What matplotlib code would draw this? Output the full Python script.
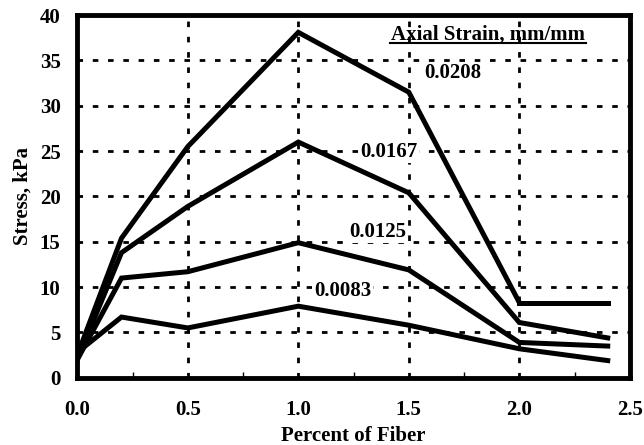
import matplotlib.pyplot as plt
import numpy as np

# percent of fiber vs. stress (kPa) at four axial strains
fiber = [0.0, 0.2, 0.5, 1.0, 1.5, 2.0, 2.4]
s_0208 = [2.5, 15.4, 25.5, 38.1, 31.5, 8.3, 8.3]
s_0167 = [2.0, 13.8, 18.9, 26.0, 20.4, 6.1, 4.4]
s_0125 = [2.0, 11.0, 11.7, 14.9, 11.9, 3.9, 3.5]
s_0083 = [2.8, 6.7, 5.5, 7.9, 5.8, 3.2, 1.9]
labels = ["0.0208", "0.0167", "0.0125", "0.0083"]
label_pos = [(1.70, 33.6), (1.41, 24.9), (1.36, 16.1), (1.20, 9.6)]

plt.rcParams['font.family'] = ['Liberation Serif', 'DejaVu Serif']
plt.rcParams['font.weight'] = 'bold'
fs = 15

fig = plt.figure(figsize=(6.44, 4.45), dpi=100)
ax = fig.add_axes([0.12, 0.151, 0.858, 0.815])

# 0.0208 has a break at 2.0: drop to 8.3 then flat
ax.plot(fiber[:6], s_0208[:6], color='black', lw=3.6, solid_joinstyle='miter', zorder=3)
ax.plot(fiber[5:], s_0208[5:], color='black', lw=3.6, zorder=3)
for ys in (s_0167, s_0125, s_0083):
    ax.plot(fiber, ys, color='black', lw=3.6, solid_joinstyle='miter', zorder=3)

for txt, (x, y) in zip(labels, label_pos):
    ax.text(x, y, txt, ha='center', va='center', fontsize=fs, fontweight='bold',
            bbox=dict(facecolor='white', edgecolor='none', pad=1), zorder=2)

ax.text(1.86, 37.9, "Axial Strain, mm/mm", ha='center', va='center',
        fontsize=fs, fontweight='bold', zorder=2)
ax.plot([1.415, 2.30], [36.95, 36.95], color='black', lw=1.5, zorder=2)

ax.set_xlim(0, 2.5)
ax.set_ylim(0, 40)
ax.set_xticks(np.arange(0, 2.51, 0.5))
ax.set_xticks(np.arange(0.25, 2.5, 0.5), minor=True)
ax.set_yticks(np.arange(0, 41, 5))
ax.set_xticklabels([f"{v:.1f}" for v in np.arange(0, 2.51, 0.5)])
ax.grid(True, which='major', color='black', lw=2, linestyle=(0, (2, 3.5)), zorder=1)
ax.tick_params(which='major', length=0, labelsize=fs, pad=12)
ax.tick_params(axis='x', which='major', pad=16)
ax.tick_params(which='minor', direction='in', length=4, width=1)
for sp in ax.spines.values():
    sp.set_linewidth(3.5)

ax.set_xlabel("Percent of Fiber", fontsize=fs, fontweight='bold', labelpad=4)
ax.set_ylabel("Stress, kPa", fontsize=fs, fontweight='bold', labelpad=5)

plt.savefig("out.png", dpi=100)
